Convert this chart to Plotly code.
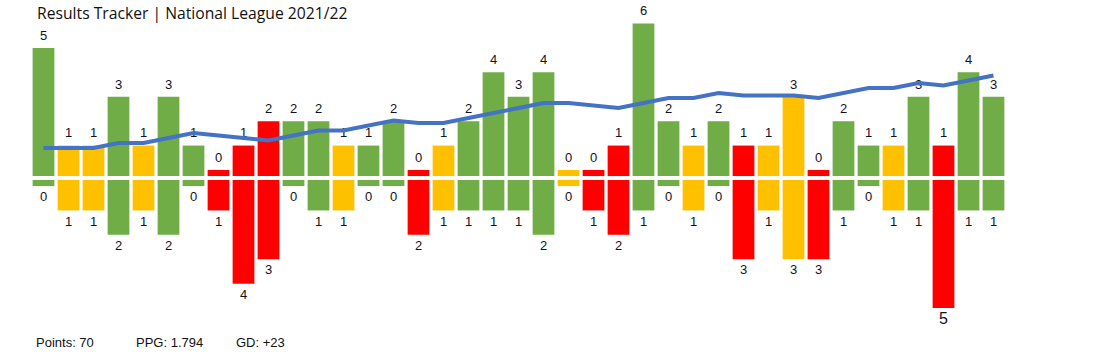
import plotly.graph_objects as go

# ---- data ----
matches = list(range(1, 40))
results = ["W","D","D","W","D","W","W","L","L","L",
           "W","W","D","W","W","L","D","W","W","W",
           "W","D","L","L","W","W","D","W","L","D",
           "D","L","W","W","D","W","L","W","W"]
goals_for = [5,1,1,3,1,3,1,0,1,2,
             2,2,1,1,2,0,1,2,4,3,
             4,0,0,1,6,2,1,2,1,1,
             3,0,2,1,1,3,1,4,3]
goals_against = [0,1,1,2,1,2,0,1,4,3,
                 0,1,1,0,0,2,1,1,1,1,
                 2,0,1,2,1,0,1,0,3,1,
                 3,3,1,0,1,1,5,1,1]
# points above one-point-per-game pace (cumulative points minus games played)
form_line = [2,2,2,4,4,6,8,7,6,5,
             7,9,9,11,13,12,12,14,16,18,
             20,20,19,18,20,22,22,24,23,23,
             23,22,24,26,26,28,27,29,31]
footer = ["Points: 70", "PPG: 1.794", "GD: +23"]
title_text = "Results Tracker | National League 2021/22"

# ---- styling ----
colour_map = {"W": "#70AD47", "D": "#FFC000", "L": "#FF0000"}
colours = [colour_map[r] for r in results]
STUB = 0.25      # zero-goal stub height
GAP = 0.08       # half the white gap between halves
W_PX, H_PX = 1105, 355
ML, MR, MT, MB = 30.5, 98.5, 2, 20
UNIT = 24.4      # px per goal
CENTER = 178     # px of zero line
y_top = (CENTER - MT) / UNIT
y_bot = -(H_PX - MB - CENTER) / UNIT
L_UNIT = 2.5
L_ZERO = 153
y2_top = (L_ZERO - MT) / L_UNIT
y2_bot = -(H_PX - MB - L_ZERO) / L_UNIT

fig = go.Figure()
fig.add_trace(go.Bar(x=matches, y=[g + STUB for g in goals_for], base=GAP,
                     marker=dict(color=colours, line=dict(width=0)), width=0.87,
                     hoverinfo="skip"))
fig.add_trace(go.Bar(x=matches, y=[-(g + STUB) for g in goals_against], base=-GAP,
                     marker=dict(color=colours, line=dict(width=0)), width=0.87,
                     hoverinfo="skip"))

lab_font = "Liberation Sans, Arial, sans-serif"
fig.add_trace(go.Scatter(x=matches, y=[g + 0.80 for g in goals_for], mode="text",
                         text=[str(g) for g in goals_for], cliponaxis=False,
                         textfont=dict(family=lab_font, size=13, color="#111122"),
                         hoverinfo="skip"))
ga_sizes = [16 if g >= 5 else 13 for g in goals_against]
fig.add_trace(go.Scatter(x=matches, y=[-(g + 0.82) for g in goals_against], mode="text",
                         text=[str(g) for g in goals_against], cliponaxis=False,
                         textfont=dict(family=lab_font, size=ga_sizes, color="#111122"),
                         hoverinfo="skip"))

fig.add_trace(go.Scatter(x=matches, y=form_line, mode="lines", yaxis="y2",
                         line=dict(color="#4472C4", width=4), hoverinfo="skip"))

plot_h = H_PX - MT - MB
plot_w = W_PX - ML - MR
footer_x = [36, 136, 236]
for txt, px in zip(footer, footer_x):
    fig.add_annotation(text=txt, xref="paper", yref="paper",
                       x=(px - ML - 2) / plot_w, y=-(342 - (H_PX - MB)) / plot_h,
                       xanchor="left", yanchor="middle", showarrow=False,
                       font=dict(family=lab_font, size=13, color="#111111"))

fig.update_layout(
    width=W_PX, height=H_PX,
    margin=dict(l=ML, r=MR, t=MT, b=MB, pad=0),
    paper_bgcolor="white", plot_bgcolor="white",
    barmode="overlay", showlegend=False,
    title=dict(text=title_text, xref="container", yref="container",
               x=37 / W_PX, y=1 - 14 / H_PX, xanchor="left", yanchor="middle",
               font=dict(family="Open Sans, Noto Sans, sans-serif", size=15.7, color="#111111")),
    xaxis=dict(range=[0.5, 39.5], visible=False, fixedrange=True),
    yaxis=dict(range=[y_bot, y_top], visible=False, fixedrange=True),
    yaxis2=dict(range=[y2_bot, y2_top], overlaying="y", visible=False, fixedrange=True),
)

fig.write_html("out.html")
